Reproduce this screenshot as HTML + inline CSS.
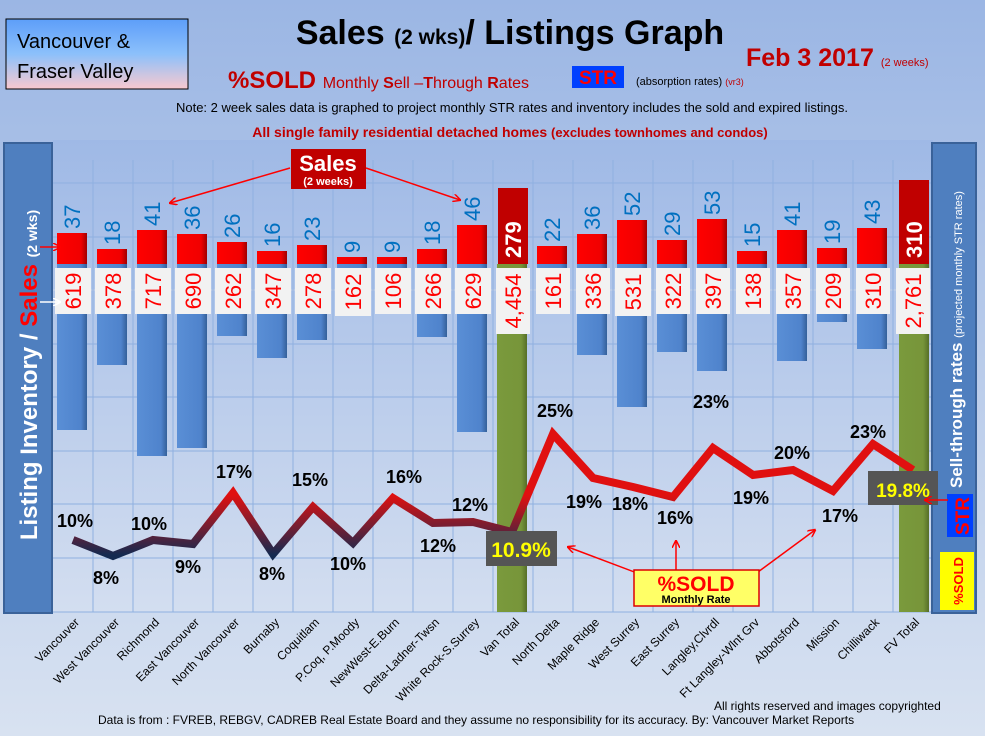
<!DOCTYPE html>
<html><head><meta charset="utf-8"><style>
body{margin:0;width:985px;height:736px;overflow:hidden;}
svg{display:block;font-family:"Liberation Sans",sans-serif;}
</style></head><body>
<svg width="985" height="736" viewBox="0 0 985 736" xmlns="http://www.w3.org/2000/svg">
<defs>
<linearGradient id="bg" x1="0" y1="0" x2="0" y2="1"><stop offset="0" stop-color="#9bb6e4"/><stop offset="1" stop-color="#d8e2f1"/></linearGradient>
<linearGradient id="plot" x1="0" y1="0" x2="0" y2="1"><stop offset="0" stop-color="#9fb9e6"/><stop offset="1" stop-color="#d3def0"/></linearGradient>
<linearGradient id="vb" x1="0" y1="0" x2="0" y2="1"><stop offset="0" stop-color="#5d9ef9"/><stop offset="0.5" stop-color="#8cc0fb"/><stop offset="1" stop-color="#f9c9cf"/></linearGradient>
<linearGradient id="ln" gradientUnits="userSpaceOnUse" x1="0" y1="495" x2="0" y2="555"><stop offset="0" stop-color="#e01010"/><stop offset="1" stop-color="#142a50"/></linearGradient>
<linearGradient id="red" x1="0" y1="0" x2="1" y2="0"><stop offset="0" stop-color="#ff0000"/><stop offset="0.8" stop-color="#f00000"/><stop offset="1" stop-color="#a00000"/></linearGradient>
<linearGradient id="blue" x1="0" y1="0" x2="1" y2="0"><stop offset="0" stop-color="#5a8fd6"/><stop offset="0.8" stop-color="#4f83cc"/><stop offset="1" stop-color="#34609a"/></linearGradient>
<linearGradient id="grn" x1="0" y1="0" x2="1" y2="0"><stop offset="0" stop-color="#7a9a3c"/><stop offset="0.8" stop-color="#77953a"/><stop offset="1" stop-color="#566f28"/></linearGradient>
<marker id="ar" markerWidth="8" markerHeight="8" refX="7" refY="4" orient="auto" markerUnits="userSpaceOnUse"><path d="M0,0 L8,4 L0,8" fill="none" stroke="#ff0000" stroke-width="1.5"/></marker>
<marker id="aw" markerWidth="8" markerHeight="8" refX="7" refY="4" orient="auto" markerUnits="userSpaceOnUse"><path d="M0,0 L8,4 L0,8" fill="none" stroke="#fff" stroke-width="1.5"/></marker>
</defs>
<rect width="985" height="736" fill="url(#bg)"/>
<rect x="53" y="140" width="880" height="472" fill="url(#plot)"/>
<g stroke="#8fb0e0" stroke-width="1">
<line x1="53" y1="183" x2="933" y2="183"/><line x1="53" y1="237" x2="933" y2="237"/><line x1="53" y1="290" x2="933" y2="290" stroke="#c8d4e8"/><line x1="53" y1="344" x2="933" y2="344"/><line x1="53" y1="397" x2="933" y2="397"/><line x1="53" y1="451" x2="933" y2="451"/><line x1="53" y1="504" x2="933" y2="504"/><line x1="53" y1="558" x2="933" y2="558"/><line x1="53" y1="612" x2="933" y2="612"/>
<line x1="93" y1="160" x2="93" y2="612"/><line x1="133" y1="160" x2="133" y2="612"/><line x1="173" y1="160" x2="173" y2="612"/><line x1="213" y1="160" x2="213" y2="612"/><line x1="253" y1="160" x2="253" y2="612"/><line x1="293" y1="160" x2="293" y2="612"/><line x1="333" y1="160" x2="333" y2="612"/><line x1="373" y1="160" x2="373" y2="612"/><line x1="413" y1="160" x2="413" y2="612"/><line x1="453" y1="160" x2="453" y2="612"/><line x1="493" y1="160" x2="493" y2="612"/><line x1="533" y1="160" x2="533" y2="612"/><line x1="573" y1="160" x2="573" y2="612"/><line x1="613" y1="160" x2="613" y2="612"/><line x1="653" y1="160" x2="653" y2="612"/><line x1="693" y1="160" x2="693" y2="612"/><line x1="733" y1="160" x2="733" y2="612"/><line x1="773" y1="160" x2="773" y2="612"/><line x1="813" y1="160" x2="813" y2="612"/><line x1="853" y1="160" x2="853" y2="612"/><line x1="893" y1="160" x2="893" y2="612"/>
</g>
<g fill="url(#blue)">
<rect x="57" y="264" width="30" height="166"/><rect x="97" y="264" width="30" height="101"/><rect x="137" y="264" width="30" height="192"/><rect x="177" y="264" width="30" height="184"/><rect x="217" y="264" width="30" height="72"/><rect x="257" y="264" width="30" height="94"/><rect x="297" y="264" width="30" height="76"/><rect x="337" y="264" width="30" height="46"/><rect x="377" y="264" width="30" height="31"/><rect x="417" y="264" width="30" height="73"/><rect x="457" y="264" width="30" height="168"/>
<rect x="537" y="264" width="30" height="45"/><rect x="577" y="264" width="30" height="91"/><rect x="617" y="264" width="30" height="143"/><rect x="657" y="264" width="30" height="88"/><rect x="697" y="264" width="30" height="107"/><rect x="737" y="264" width="30" height="39"/><rect x="777" y="264" width="30" height="97"/><rect x="817" y="264" width="30" height="58"/><rect x="857" y="264" width="30" height="85"/>
</g>
<rect x="497" y="264" width="30" height="348" fill="url(#grn)"/><rect x="899" y="264" width="30" height="348" fill="url(#grn)"/>
<g fill="url(#red)">
<rect x="57" y="233" width="30" height="31"/><rect x="97" y="249" width="30" height="15"/><rect x="137" y="230" width="30" height="34"/><rect x="177" y="234" width="30" height="30"/><rect x="217" y="242" width="30" height="22"/><rect x="257" y="251" width="30" height="13"/><rect x="297" y="245" width="30" height="19"/><rect x="337" y="257" width="30" height="7"/><rect x="377" y="257" width="30" height="7"/><rect x="417" y="249" width="30" height="15"/><rect x="457" y="225" width="30" height="39"/>
<rect x="537" y="246" width="30" height="18"/><rect x="577" y="234" width="30" height="30"/><rect x="617" y="220" width="30" height="44"/><rect x="657" y="240" width="30" height="24"/><rect x="697" y="219" width="30" height="45"/><rect x="737" y="251" width="30" height="13"/><rect x="777" y="230" width="30" height="34"/><rect x="817" y="248" width="30" height="16"/><rect x="857" y="228" width="30" height="36"/>
</g>
<rect x="498" y="188" width="30" height="76" fill="#c00000"/><rect x="899" y="180" width="30" height="84" fill="#c00000"/>
<g fill="#f2f2f2">
<rect x="55" y="268" width="36" height="46"/><rect x="95" y="268" width="36" height="46"/><rect x="135" y="268" width="36" height="46"/><rect x="175" y="268" width="36" height="46"/><rect x="215" y="268" width="36" height="46"/><rect x="255" y="268" width="36" height="46"/><rect x="295" y="268" width="36" height="46"/><rect x="335" y="268" width="36" height="48"/><rect x="375" y="268" width="36" height="46"/><rect x="415" y="268" width="36" height="46"/><rect x="455" y="268" width="36" height="46"/><rect x="496" y="268" width="34" height="66"/>
<rect x="536" y="268" width="34" height="46"/><rect x="576" y="268" width="34" height="46"/><rect x="615" y="268" width="36" height="48"/><rect x="656" y="268" width="34" height="46"/><rect x="696" y="268" width="34" height="46"/><rect x="736" y="268" width="34" height="46"/><rect x="776" y="268" width="34" height="46"/><rect x="816" y="268" width="34" height="46"/><rect x="856" y="268" width="34" height="46"/><rect x="896" y="268" width="34" height="66"/>
</g>
<g fill="#ff0000" font-size="22" text-anchor="middle">
<text transform="translate(81,291) rotate(-90)">619</text><text transform="translate(121,291) rotate(-90)">378</text><text transform="translate(161,291) rotate(-90)">717</text><text transform="translate(201,291) rotate(-90)">690</text><text transform="translate(241,291) rotate(-90)">262</text><text transform="translate(281,291) rotate(-90)">347</text><text transform="translate(321,291) rotate(-90)">278</text><text transform="translate(361,292) rotate(-90)">162</text><text transform="translate(401,291) rotate(-90)">106</text><text transform="translate(441,291) rotate(-90)">266</text><text transform="translate(481,291) rotate(-90)">629</text><text transform="translate(521,301) rotate(-90)">4,454</text>
<text transform="translate(561,291) rotate(-90)">161</text><text transform="translate(601,291) rotate(-90)">336</text><text transform="translate(641,292) rotate(-90)">531</text><text transform="translate(681,291) rotate(-90)">322</text><text transform="translate(721,291) rotate(-90)">397</text><text transform="translate(761,291) rotate(-90)">138</text><text transform="translate(801,291) rotate(-90)">357</text><text transform="translate(841,291) rotate(-90)">209</text><text transform="translate(881,291) rotate(-90)">310</text><text transform="translate(921,301) rotate(-90)">2,761</text>
</g>
<g fill="#0070c0" font-size="22">
<text transform="translate(80,229) rotate(-90)">37</text><text transform="translate(120,245) rotate(-90)">18</text><text transform="translate(160,226) rotate(-90)">41</text><text transform="translate(200,230) rotate(-90)">36</text><text transform="translate(240,238) rotate(-90)">26</text><text transform="translate(280,247) rotate(-90)">16</text><text transform="translate(320,241) rotate(-90)">23</text><text transform="translate(360,253) rotate(-90)">9</text><text transform="translate(400,253) rotate(-90)">9</text><text transform="translate(440,245) rotate(-90)">18</text><text transform="translate(480,221) rotate(-90)">46</text>
<text transform="translate(560,242) rotate(-90)">22</text><text transform="translate(600,230) rotate(-90)">36</text><text transform="translate(640,216) rotate(-90)">52</text><text transform="translate(680,236) rotate(-90)">29</text><text transform="translate(720,215) rotate(-90)">53</text><text transform="translate(760,247) rotate(-90)">15</text><text transform="translate(800,226) rotate(-90)">41</text><text transform="translate(840,244) rotate(-90)">19</text><text transform="translate(880,224) rotate(-90)">43</text>
</g>
<g fill="#fff" font-size="22" font-weight="bold"><text transform="translate(521,258) rotate(-90)">279</text><text transform="translate(922,258) rotate(-90)">310</text></g>
<polyline points="73,540 113,556 153,540 193,544 233,493 273,554 313,507 353,543 393,498 433,523 473,522 512,532 553,434 593,478 633,487 673,497 713,448 753,475 793,470 833,491 873,444 913,470" fill="none" stroke="url(#ln)" stroke-width="8" stroke-linejoin="miter"/>
<g font-size="18" font-weight="bold" fill="#000">
<text x="57" y="527">10%</text><text x="93" y="584">8%</text><text x="131" y="530">10%</text><text x="175" y="573">9%</text><text x="216" y="478">17%</text><text x="259" y="580">8%</text><text x="292" y="486">15%</text><text x="330" y="570">10%</text><text x="386" y="483">16%</text><text x="452" y="511">12%</text><text x="420" y="552">12%</text>
<text x="537" y="417">25%</text><text x="566" y="508">19%</text><text x="612" y="510">18%</text><text x="657" y="524">16%</text><text x="693" y="408">23%</text><text x="733" y="504">19%</text><text x="774" y="459">20%</text><text x="822" y="522">17%</text><text x="850" y="438">23%</text>
</g>
<rect x="486" y="531" width="71" height="35" fill="#555"/><text x="521" y="557" font-size="21" font-weight="bold" fill="#ffff00" text-anchor="middle">10.9%</text>
<g stroke="#ff0000" stroke-width="1.5" fill="none">
<line x1="637" y1="573" x2="568" y2="547" marker-end="url(#ar)"/><line x1="676" y1="570" x2="676" y2="541" marker-end="url(#ar)"/><line x1="758" y1="572" x2="815" y2="530" marker-end="url(#ar)"/>
<line x1="290" y1="168" x2="170" y2="203" marker-end="url(#ar)"/><line x1="366" y1="168" x2="460" y2="200" marker-end="url(#ar)"/>
</g>
<rect x="634" y="570" width="125" height="36" fill="#ffff66" stroke="#dd0000" stroke-width="1.5"/>
<text x="696" y="591" font-size="21" font-weight="bold" fill="#ff0000" text-anchor="middle">%SOLD</text>
<text x="696" y="603" font-size="11" font-weight="bold" fill="#000" text-anchor="middle">Monthly Rate</text>
<rect x="291" y="149" width="75" height="40" fill="#c00000"/>
<text x="328" y="171" font-size="22" font-weight="bold" fill="#fff" text-anchor="middle">Sales</text>
<text x="328" y="185" font-size="11" font-weight="bold" fill="#fff" text-anchor="middle">(2 weeks)</text>
<rect x="4" y="143" width="48" height="470" fill="#4f7fbf" stroke="#3a6299" stroke-width="2"/>
<text transform="translate(37,375) rotate(-90)" font-size="24" font-weight="bold" fill="#fff" text-anchor="middle">Listing Inventory / <tspan fill="#ff0000">Sales</tspan> <tspan font-size="14">(2  wks)</tspan></text>
<line x1="40" y1="247" x2="60" y2="247" stroke="#ff0000" stroke-width="1.5" marker-end="url(#ar)"/>
<line x1="40" y1="302" x2="60" y2="302" stroke="#fff" stroke-width="1.5" marker-end="url(#aw)"/>
<rect x="932" y="143" width="44" height="470" fill="#4f7fbf" stroke="#3a6299" stroke-width="2"/>
<text transform="translate(962,488) rotate(-90)" font-size="17" font-weight="bold" fill="#fff">Sell-through rates <tspan font-size="11" font-weight="normal">(projected monthly STR rates)</tspan></text>
<rect x="947" y="494" width="26" height="43" fill="#0040ff"/>
<text transform="translate(969,516) rotate(-90)" font-size="19" font-weight="bold" fill="#ff0000" text-anchor="middle">STR</text>
<rect x="940" y="552" width="34" height="58" fill="#ffff00"/>
<text transform="translate(963,581) rotate(-90)" font-size="13" font-weight="bold" fill="#ff0000" text-anchor="middle">%SOLD</text>
<rect x="868" y="471" width="70" height="34" fill="#555"/><text x="903" y="497" font-size="19" font-weight="bold" fill="#ffff00" text-anchor="middle">19.8%</text>
<line x1="948" y1="500" x2="925" y2="500" stroke="#ff0000" stroke-width="1.5" marker-end="url(#ar)"/>
<g font-size="12" fill="#000" text-anchor="end">
<text transform="translate(80,623) rotate(-45)">Vancouver</text><text transform="translate(120,623) rotate(-45)">West Vancouver</text><text transform="translate(160,623) rotate(-45)">Richmond</text><text transform="translate(200,623) rotate(-45)">East Vancouver</text><text transform="translate(240,623) rotate(-45)">North Vancouver</text><text transform="translate(280,623) rotate(-45)">Burnaby</text><text transform="translate(320,623) rotate(-45)">Coquitlam</text><text transform="translate(360,623) rotate(-45)">P.Coq, P.Moody</text><text transform="translate(400,623) rotate(-45)">NewWest-E.Burn</text><text transform="translate(440,623) rotate(-45)">Delta-Ladner-Twsn</text><text transform="translate(480,623) rotate(-45)">White Rock-S.Surrey</text><text transform="translate(520,623) rotate(-45)">Van Total</text>
<text transform="translate(560,623) rotate(-45)">North Delta</text><text transform="translate(600,623) rotate(-45)">Maple Ridge</text><text transform="translate(640,623) rotate(-45)">West Surrey</text><text transform="translate(680,623) rotate(-45)">East Surrey</text><text transform="translate(720,623) rotate(-45)">Langley,Clvrdl</text><text transform="translate(760,623) rotate(-45)">Ft Langley-Wlnt Grv</text><text transform="translate(800,623) rotate(-45)">Abbotsford</text><text transform="translate(840,623) rotate(-45)">Mission</text><text transform="translate(880,623) rotate(-45)">Chilliwack</text><text transform="translate(920,623) rotate(-45)">FV Total</text>
</g>
<text x="714" y="710" font-size="12" fill="#000">All rights reserved and  images copyrighted</text>
<text x="98" y="724" font-size="12" fill="#000">Data is from : FVREB, REBGV, CADREB Real Estate Board and they assume no responsibility for its accuracy. By: Vancouver Market Reports</text>
<rect x="6" y="19" width="182" height="70" fill="url(#vb)" stroke="#000" stroke-width="1"/>
<text x="17" y="48" font-size="20" fill="#000">Vancouver &amp;</text>
<text x="17" y="78" font-size="20" fill="#000">Fraser Valley</text>
<text x="510" y="44" font-size="34" font-weight="bold" fill="#000" text-anchor="middle">Sales <tspan font-size="21">(2 wks)</tspan>/ Listings Graph</text>
<text x="746" y="66" font-size="25" font-weight="bold" fill="#c00000">Feb 3 2017 <tspan font-size="11" font-weight="normal">(2 weeks)</tspan></text>
<text x="228" y="88" font-size="24" font-weight="bold" fill="#c00000">%SOLD <tspan font-size="16" font-weight="normal">Monthly <tspan font-weight="bold">S</tspan>ell –<tspan font-weight="bold">T</tspan>hrough <tspan font-weight="bold">R</tspan>ates</tspan></text>
<rect x="572" y="66" width="52" height="22" fill="#0040ff"/>
<text x="598" y="84" font-size="19" font-weight="bold" fill="#ff0000" text-anchor="middle">STR</text>
<text x="636" y="85" font-size="11" fill="#000">(absorption rates) <tspan fill="#c00000" font-size="9">(vr3)</tspan></text>
<text x="512" y="112" font-size="13" fill="#000" text-anchor="middle">Note: 2 week sales data is graphed to project monthly STR rates and inventory includes the sold and expired listings.</text>
<text x="510" y="137" font-size="14" font-weight="bold" fill="#c00000" text-anchor="middle">All single family residential detached homes <tspan font-size="13">(excludes townhomes and condos)</tspan></text>
</svg>
</body></html>
